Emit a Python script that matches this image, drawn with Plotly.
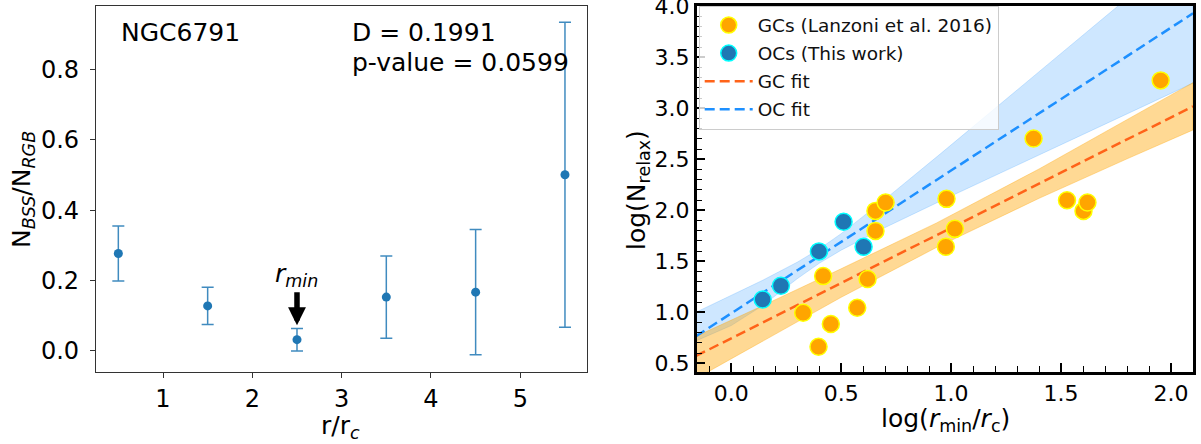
import plotly.graph_objects as go

# ---------------- Left panel data (NGC6791 radial BSS ratio) ----------------
r_bins = [0.5, 1.5, 2.5, 3.5, 4.5, 5.5]
bss_ratio = [0.277, 0.128, 0.032, 0.153, 0.167, 0.501]
bss_err = [0.078, 0.053, 0.032, 0.117, 0.178, 0.434]
rmin_x = 2.5
arrow_tail_y = 0.171
arrow_tip_y = 0.073
rmin_label_y = 0.215

# ---------------- Right panel data ----------------
gc_x = [0.327, 0.418, 0.453, 0.397, 0.573, 0.620, 0.656, 0.656, 0.702,
        0.979, 1.017, 0.976, 1.375, 1.527, 1.602, 1.620, 1.953]
gc_y = [0.996, 1.355, 0.886, 0.663, 1.045, 1.326, 1.798, 1.994, 2.076,
        2.112, 1.818, 1.642, 2.703, 2.099, 1.994, 2.076, 3.273]
oc_x = [0.143, 0.226, 0.399, 0.511, 0.602]
oc_y = [1.125, 1.260, 1.597, 1.887, 1.642]

fit_x = [-0.16, 2.1]
gc_fit_y = [0.572, 3.019]
oc_fit_y = [0.766, 3.930]

gc_band_x = [-0.16, 0.143, 0.5, 0.932, 1.4, 1.8, 2.1]
gc_band_hi = [0.765, 1.065, 1.427, 1.874, 2.405, 2.884, 3.251]
gc_band_lo = [0.351, 0.720, 1.147, 1.634, 2.117, 2.504, 2.787]

oc_band_x = [-0.16, 0.0, 0.143, 0.3, 0.4, 0.5, 0.7, 0.95, 1.4, 1.8, 2.1]
oc_band_hi = [1.001, 1.165, 1.314, 1.491, 1.620, 1.771, 2.109, 2.551, 3.356, 4.074, 4.614]
oc_band_lo = [0.720, 0.870, 1.066, 1.329, 1.480, 1.609, 1.831, 2.089, 2.544, 2.946, 3.246]

FONT = "DejaVu Sans"
W, H = 1201, 444
ML, MR, MT, MB = 96, 8, 6, 72
PW = W - ML - MR
PH = H - MT - MB


def px_x(px):
    return (px - ML) / PW


def px_y(py):
    return (H - MB - py) / PH


fig = go.Figure()

# Left panel
fig.add_trace(go.Scatter(
    x=r_bins, y=bss_ratio, mode="markers",
    marker=dict(color="#1f77b4", size=9),
    error_y=dict(type="data", array=bss_err, visible=True,
                 color="rgba(31,119,180,0.85)", thickness=1.5, width=6),
    xaxis="x", yaxis="y", showlegend=False))

# Right panel: bands
fig.add_trace(go.Scatter(
    x=oc_band_x + oc_band_x[::-1], y=oc_band_hi + oc_band_lo[::-1],
    fill="toself", fillcolor="rgba(30,144,255,0.22)",
    line=dict(color="rgba(30,144,255,0.25)", width=0.8),
    mode="lines", hoverinfo="skip", showlegend=False,
    xaxis="x2", yaxis="y2"))
fig.add_trace(go.Scatter(
    x=gc_band_x + gc_band_x[::-1], y=gc_band_hi + gc_band_lo[::-1],
    fill="toself", fillcolor="rgba(255,165,0,0.42)",
    line=dict(color="rgba(255,165,0,0.45)", width=0.8),
    mode="lines", hoverinfo="skip", showlegend=False,
    xaxis="x2", yaxis="y2"))

# Fit lines (legend entries 3, 4)
fig.add_trace(go.Scatter(
    x=fit_x, y=gc_fit_y, mode="lines", name="GC fit",
    line=dict(color="#ff6319", width=2.5, dash="10px,5px"),
    legendgroup="g3", legendrank=3, xaxis="x2", yaxis="y2"))
fig.add_trace(go.Scatter(
    x=fit_x, y=oc_fit_y, mode="lines", name="OC fit",
    line=dict(color="#1e90ff", width=2.5, dash="10px,5px"),
    legendgroup="g4", legendrank=4, xaxis="x2", yaxis="y2"))

# Points
fig.add_trace(go.Scatter(
    x=gc_x, y=gc_y, mode="markers", name="GCs (Lanzoni et al. 2016)",
    marker=dict(color="#ffa500", size=17, line=dict(color="#ffff00", width=1.5)),
    legendgroup="g1", legendrank=1, xaxis="x2", yaxis="y2"))
fig.add_trace(go.Scatter(
    x=oc_x, y=oc_y, mode="markers", name="OCs (This work)",
    marker=dict(color="#1f77b4", size=17, line=dict(color="#00ffff", width=1.5)),
    legendgroup="g2", legendrank=2, xaxis="x2", yaxis="y2"))

left_dom = [0, px_x(587.3)]
right_dom = [px_x(696.7), 1]

common_font = dict(family=FONT, color="black")

fig.update_layout(
    template="none",
    width=W, height=H,
    margin=dict(l=ML, r=MR, t=MT, b=MB, autoexpand=False),
    paper_bgcolor="white", plot_bgcolor="white",
    font=dict(family=FONT, color="black"),
    xaxis=dict(domain=left_dom, range=[0.25, 5.75], tickvals=[1, 2, 3, 4, 5],
               ticks="outside", ticklen=5, tickwidth=1, tickcolor="#333",
               showline=True, linecolor="#333", linewidth=1.2, mirror=True,
               showgrid=False, zeroline=False, automargin=False,
               ticklabeloverflow="allow",
               tickfont=dict(size=24, **common_font)),
    yaxis=dict(domain=[0, 1], range=[-0.06, 0.981],
               tickvals=[0.0, 0.2, 0.4, 0.6, 0.8], tickformat=".1f",
               ticks="outside", ticklen=5, tickwidth=1, tickcolor="#333",
               showline=True, linecolor="#333", linewidth=1.2, mirror=True,
               showgrid=False, zeroline=False, automargin=False,
               ticklabelstandoff=6, ticklabeloverflow="allow",
               tickfont=dict(size=24, **common_font)),
    xaxis2=dict(domain=right_dom, range=[-0.157, 2.1], anchor="y2",
                tick0=0, dtick=0.5, tickformat=".1f",
                ticks="inside", ticklen=9, tickwidth=1.5, tickcolor="black",
                minor=dict(dtick=0.1, ticks="inside", ticklen=6,
                           tickwidth=1.2, tickcolor="black"),
                showline=True, linecolor="black", linewidth=2.5, mirror=True,
                showgrid=False, zeroline=False, automargin=False,
                ticklabeloverflow="allow",
                tickfont=dict(size=22, **common_font)),
    yaxis2=dict(domain=[0, 1], range=[0.415, 4.002], anchor="x2",
                tick0=0, dtick=0.5, tickformat=".1f",
                ticks="inside", ticklen=9, tickwidth=1.5, tickcolor="black",
                minor=dict(dtick=0.1, ticks="inside", ticklen=6,
                           tickwidth=1.2, tickcolor="black"),
                showline=True, linecolor="black", linewidth=2.5, mirror=True,
                showgrid=False, zeroline=False, automargin=False,
                ticklabeloverflow="allow",
                tickfont=dict(size=22, **common_font)),
    legend=dict(x=px_x(698.7), y=px_y(5.5), xanchor="left", yanchor="top",
                bgcolor="rgba(255,255,255,0.8)", bordercolor="#cccccc",
                borderwidth=1, font=dict(size=18.5, family=FONT, color="#111"),
                tracegroupgap=1, itemwidth=48, traceorder="grouped"),
)

ann = []
# Axis titles
ann.append(dict(text="N<sub><i>BSS</i></sub>/N<sub><i>RGB</i></sub>",
                xref="paper", yref="paper", x=px_x(23), y=px_y(190),
                textangle=-90, showarrow=False, xanchor="center", yanchor="middle",
                font=dict(size=25, **common_font)))
ann.append(dict(text="r/r<sub><i>c</i></sub>",
                xref="paper", yref="paper", x=px_x(340), y=px_y(427),
                showarrow=False, xanchor="center", yanchor="middle",
                font=dict(size=25, **common_font)))
ann.append(dict(text="log(N<sub>relax</sub>)",
                xref="paper", yref="paper", x=px_x(638), y=px_y(190),
                textangle=-90, showarrow=False, xanchor="center", yanchor="middle",
                font=dict(size=25, **common_font)))
ann.append(dict(text="log(<i>r</i><sub>min</sub>/<i>r</i><sub>c</sub>)",
                xref="paper", yref="paper", x=px_x(945), y=px_y(420),
                showarrow=False, xanchor="center", yanchor="middle",
                font=dict(size=25, **common_font)))
# Left panel texts
ann.append(dict(text="NGC6791", xref="paper", yref="paper",
                x=px_x(119), y=px_y(33), showarrow=False,
                xanchor="left", yanchor="middle", font=dict(size=25, **common_font)))
ann.append(dict(text="D = 0.1991", xref="paper", yref="paper",
                x=px_x(350), y=px_y(33), showarrow=False,
                xanchor="left", yanchor="middle", font=dict(size=25, **common_font)))
ann.append(dict(text="p-value = 0.0599", xref="paper", yref="paper",
                x=px_x(350), y=px_y(63), showarrow=False,
                xanchor="left", yanchor="middle", font=dict(size=25, **common_font)))
# r_min label and arrow
ann.append(dict(text="<i>r<sub>min</sub></i>", xref="x", yref="y",
                x=rmin_x, y=rmin_label_y, showarrow=False,
                xanchor="center", yanchor="middle", font=dict(size=25, **common_font)))
ann.append(dict(text="", xref="x", yref="y", x=rmin_x, y=arrow_tip_y,
                axref="x", ayref="y", ax=rmin_x, ay=arrow_tail_y,
                showarrow=True, arrowhead=2, arrowwidth=5.5, arrowsize=0.65,
                arrowcolor="black"))
fig.update_layout(annotations=ann)

fig.write_html(
    "out.html",
    config={"displayModeBar": False},
    post_script="document.body.style.margin='0px';document.body.style.padding='0px';"
                "document.documentElement.style.overflow='hidden';")
